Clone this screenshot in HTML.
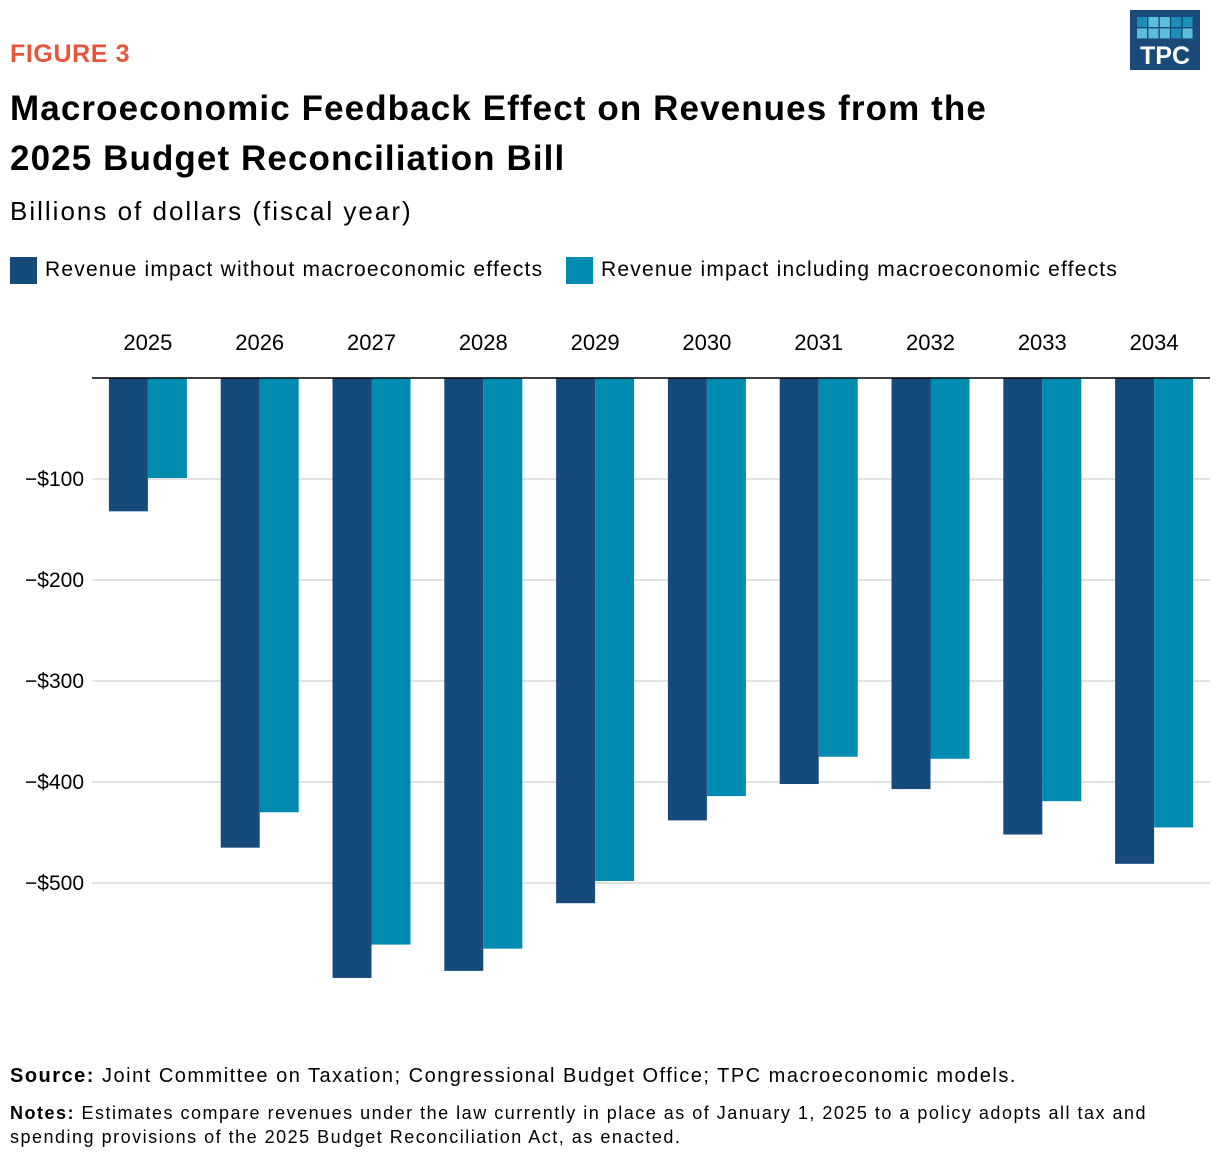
<!DOCTYPE html>
<html><head><meta charset="utf-8"><style>
body{margin:0;width:1220px;height:1160px;background:#fff;font-family:"Liberation Sans",sans-serif;position:relative;overflow:hidden;color:#000}
.a{position:absolute;white-space:nowrap}
</style></head><body>
<div class="a" style="left:10px;top:40px;font-size:25px;color:#e8553c;font-weight:bold;letter-spacing:0.6px">FIGURE 3</div>
<div class="a" style="left:10px;top:84px;font-size:35px;font-weight:bold;line-height:50px;letter-spacing:1.1px">Macroeconomic Feedback Effect on Revenues from the<br>2025 Budget Reconciliation Bill</div>
<div class="a" style="left:10px;top:196px;font-size:26px;letter-spacing:2px">Billions of dollars (fiscal year)</div>
<div class="a" style="left:10px;top:257px;font-size:21px;letter-spacing:1.2px"><span style="display:inline-block;width:27px;height:27px;background:#164a7b;vertical-align:middle;margin-right:8px"></span>Revenue impact without macroeconomic effects</div>
<div class="a" style="left:566px;top:257px;font-size:21px;letter-spacing:1.2px"><span style="display:inline-block;width:27px;height:27px;background:#008bb0;vertical-align:middle;margin-right:8px"></span>Revenue impact including macroeconomic effects</div>
<svg class="a" style="left:1130px;top:10px" width="70" height="60">
<rect width="70" height="60" fill="#1a4a7a"/>
<g id="sq"></g>
<text x="35" y="54" text-anchor="middle" font-size="25" font-weight="bold" fill="#fff" font-family="Liberation Sans">TPC</text>
</svg>
<svg id="chart" class="a" style="left:0;top:0" width="1220" height="1160"></svg>
<div class="a" style="left:10px;top:1065px;font-size:20px;letter-spacing:1.5px"><b>Source:</b> Joint Committee on Taxation; Congressional Budget Office; TPC macroeconomic models.</div>
<div class="a" style="left:10px;top:1101px;font-size:18px;line-height:24px;letter-spacing:1.5px"><b>Notes:</b> Estimates compare revenues under the law currently in place as of January 1, 2025 to a policy adopts all tax and<br>spending provisions of the 2025 Budget Reconciliation Act, as enacted.</div>
<script>
const categories=["2025","2026","2027","2028","2029","2030","2031","2032","2033","2034"];
const withoutMacro=[-132,-465,-594,-587,-520,-438,-402,-407,-452,-481];
const withMacro=[-99,-430,-561,-565,-498,-414,-375,-377,-419,-445];
const yTicks=[-100,-200,-300,-400,-500];
const yTickLabels=["−$100","−$200","−$300","−$400","−$500"];
const NS="http://www.w3.org/2000/svg";
const svg=document.getElementById('chart');
const x0=92,x1=1210,band=(x1-x0)/categories.length;
const y=v=>378-v*1.01;
const xc=i=>x0+band*(i+0.5);
function mk(t,a){const e=document.createElementNS(NS,t);for(const k in a)e.setAttribute(k,a[k]);svg.appendChild(e);return e;}
yTicks.forEach((t,i)=>{
 const l=mk('line',{x1:x0,x2:x1,y1:y(t),y2:y(t),stroke:'#d8d8d8','stroke-width':1.5});
 
 
 const tx=mk('text',{x:84,y:y(t)+7,'text-anchor':'end','font-size':21,'font-family':'Liberation Sans'});
 tx.textContent=yTickLabels[i];
 
 
});
categories.forEach((c,i)=>{
 const b1=mk('rect',{x:xc(i)-39,y:y(0),width:39,height:y(withoutMacro[i])-y(0),fill:'#164a7b'});
 
 
 const b2=mk('rect',{x:xc(i),y:y(0),width:39,height:y(withMacro[i])-y(0),fill:'#008bb0'});
 
 
 const tx=mk('text',{x:xc(i),y:350,'text-anchor':'middle','font-size':22,'font-family':'Liberation Sans'});
 tx.textContent=c;
 
 
});
const z=mk('line',{x1:x0,x2:x1,y1:y(0),y2:y(0),stroke:'#000','stroke-width':1.5});


const g=document.getElementById('sq');
const cols=['#1a8fb8','#5cbfd9','#5cbfd9','#1a8fb8','#1a8fb8','#5cbfd9','#5cbfd9','#5cbfd9','#1a8fb8','#5cbfd9'];
for(let r=0;r<2;r++)for(let k=0;k<5;k++){const s=document.createElementNS(NS,'rect');s.setAttribute('x',7+k*11.4);s.setAttribute('y',7+r*11.4);s.setAttribute('width',10);s.setAttribute('height',10);s.setAttribute('fill',cols[r*5+k]);g.appendChild(s);}
</script>
</body></html>
